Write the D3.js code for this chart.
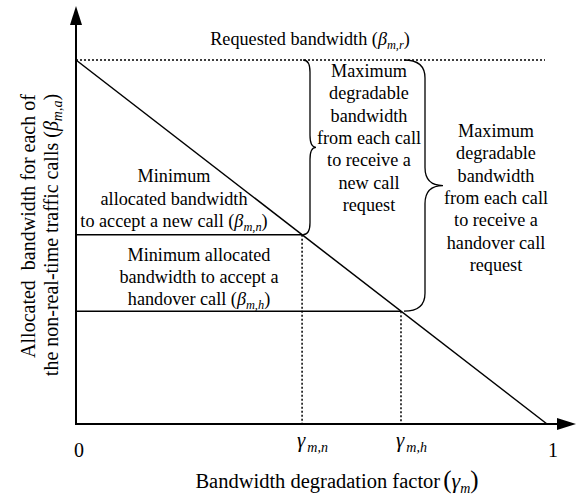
<!DOCTYPE html>
<html>
<head>
<meta charset="utf-8">
<script src="https://cdn.jsdelivr.net/npm/d3@7"></script>
</head>
<body style="margin:0;background:#fff">
<div id="chart"></div>
<script>
// bandwidth degradation factor values (x) and allocated bandwidth (y, relative to requested)
var lineGamma = [0, 1];
var lineBeta = [1, 0];
var markGamma = [0.48, 0.69];
var markSub = ['m,n', 'm,h'];
var tickValues = [0, 1];
var tickLabels = ['0', '1'];
var betaRequested = 1;

var width = 576,
  height = 495,
  serif = 'Liberation Serif',
  fs = 18.2;

var svg = d3.select('#chart')
  .append('svg')
  .attr('width', width)
  .attr('height', height)
  .attr('font-family', serif);

var x = d3.scaleLinear().domain([0, 1]).range([76, 547]);
var y = d3.scaleLinear().domain([0, 1]).range([424, 60]);

// allocated bandwidth of each mark = value on the line
var lineFn = d3.scaleLinear().domain(lineGamma).range(lineBeta);

// axes
svg.append('line')
  .attr('x1', x(0)).attr('y1', y(0))
  .attr('x2', 559).attr('y2', y(0))
  .attr('stroke', '#000').attr('stroke-width', 2);
svg.append('path')
  .attr('d', 'M557,' + (y(0) - 6) + 'L576,' + y(0) + 'L557,' + (y(0) + 6) + 'Z')
  .attr('fill', '#000');
svg.append('line')
  .attr('x1', x(0)).attr('y1', y(0) + 1)
  .attr('x2', x(0)).attr('y2', 23)
  .attr('stroke', '#000').attr('stroke-width', 2);
svg.append('path')
  .attr('d', 'M' + (x(0) - 6) + ',25L' + x(0) + ',6L' + (x(0) + 6) + ',25Z')
  .attr('fill', '#000');

// requested bandwidth (dotted)
svg.append('line')
  .attr('x1', x(0)).attr('y1', y(betaRequested))
  .attr('x2', 545).attr('y2', y(betaRequested))
  .attr('stroke', '#000').attr('stroke-width', 1.5)
  .attr('stroke-dasharray', '2,2');

// allocated bandwidth line
svg.append('path')
  .datum(lineGamma.map(function(g, i) { return [g, lineBeta[i]]; }))
  .attr('d', d3.line().x(function(d) { return x(d[0]); }).y(function(d) { return y(d[1]); }))
  .attr('fill', 'none')
  .attr('stroke', '#000')
  .attr('stroke-width', 1.5);

// horizontal minimum levels and dashed drops
markGamma.forEach(function(g) {
  svg.append('line')
    .attr('x1', x(0)).attr('y1', y(lineFn(g)))
    .attr('x2', x(g)).attr('y2', y(lineFn(g)))
    .attr('stroke', '#000').attr('stroke-width', 1.5);
  svg.append('line')
    .attr('x1', x(g)).attr('y1', y(lineFn(g)))
    .attr('x2', x(g)).attr('y2', y(0))
    .attr('stroke', '#000').attr('stroke-width', 1.5)
    .attr('stroke-dasharray', '2,2');
});

// tick labels
tickValues.forEach(function(v, i) {
  svg.append('text')
    .attr('x', x(v) + (i === 0 ? 3 : 6))
    .attr('y', 457)
    .attr('text-anchor', 'middle')
    .attr('font-family', serif)
    .attr('font-size', 20)
    .text(tickLabels[i]);
});

markGamma.forEach(function(g, i) {
  var t = svg.append('text')
    .attr('x', x(g) - 5)
    .attr('y', 447)
    .attr('font-family', serif)
    .attr('font-size', 21);
  t.append('tspan').attr('font-style', 'italic').text('γ');
  t.append('tspan').attr('font-style', 'italic').attr('font-size', 14)
    .attr('dy', 5).attr('dx', 2).text(markSub[i]);
});

// write a line made of segments; segment with sub gets subscript
var writeLine = function(cx, cy, parts, size) {
  var t = svg.append('text')
    .attr('x', cx).attr('y', cy)
    .attr('text-anchor', 'middle')
    .attr('font-family', serif)
    .attr('font-size', size);
  parts.forEach(function(p) {
    if (typeof p === 'string') {
      t.append('tspan').text(p);
    } else {
      t.append('tspan').attr('font-style', 'italic').text(p.g);
      t.append('tspan').attr('font-style', 'italic').attr('font-size', size * 0.68)
        .attr('dy', 4).text(p.sub);
      t.append('tspan').attr('dy', -4).text(p.after);
    }
  });
  return t;
};

var writeBlock = function(cx, y0, lines, step, size) {
  lines.forEach(function(l, i) {
    writeLine(cx, y0 + i * step, typeof l === 'string' ? [l] : l, size);
  });
};

writeLine(310, 45, ['Requested bandwidth (', {g: 'β', sub: 'm,r', after: ')'}], fs);

writeBlock(174, 182, [
  'Minimum',
  'allocated bandwidth',
  ['to accept a new call (', {g: 'β', sub: 'm,n', after: ')'}]
], 22.5, fs);

writeBlock(199, 261, [
  'Minimum allocated',
  'bandwidth to accept a',
  ['handover call (', {g: 'β', sub: 'm,h', after: ')'}]
], 22, fs);

writeBlock(369, 77, ['Maximum', 'degradable', 'bandwidth', 'from each call',
  'to receive a', 'new call', 'request'], 22.3, fs);

writeBlock(496, 137, ['Maximum', 'degradable', 'bandwidth', 'from each call',
  'to receive a', 'handover call', 'request'], 22.3, fs);

// braces
var brace = function(xEnd, xSpine, xTip, y0, y1, ry) {
  var ym = (y0 + y1) / 2;
  var d = 'M' + xEnd + ',' + y0 +
    'Q' + xSpine + ',' + y0 + ' ' + xSpine + ',' + (y0 + ry) +
    'L' + xSpine + ',' + (ym - ry) +
    'Q' + xSpine + ',' + ym + ' ' + xTip + ',' + ym +
    'Q' + xSpine + ',' + ym + ' ' + xSpine + ',' + (ym + ry) +
    'L' + xSpine + ',' + (y1 - ry) +
    'Q' + xSpine + ',' + y1 + ' ' + xEnd + ',' + y1;
  svg.append('path').attr('d', d)
    .attr('fill', 'none').attr('stroke', '#000').attr('stroke-width', 1.3);
};
brace(x(markGamma[0]) + 1, 310, 316, y(betaRequested), y(lineFn(markGamma[0])), 12);
brace(x(markGamma[1]) + 3, 425, 443, y(betaRequested), y(lineFn(markGamma[1])), 18);

// axis titles
var xt = svg.append('text')
  .attr('x', 337).attr('y', 488)
  .attr('text-anchor', 'middle')
  .attr('font-family', serif)
  .attr('font-size', 20.5);
xt.append('tspan').text('Bandwidth degradation factor');
xt.append('tspan').attr('dx', 3).attr('font-size', 25).text('(');
xt.append('tspan').attr('font-style', 'italic').attr('font-size', 22).text('γ');
xt.append('tspan').attr('font-style', 'italic').attr('font-size', 14).attr('dy', 5).text('m');
xt.append('tspan').attr('font-size', 25).attr('dy', -5).text(')');

var yt = svg.append('g').attr('transform', 'rotate(-90)');
yt.append('text')
  .attr('x', -226).attr('y', 35)
  .attr('text-anchor', 'middle')
  .attr('font-family', serif)
  .attr('font-size', 20)
  .attr('xml:space', 'preserve')
  .style('white-space', 'pre')
  .text('Allocated  bandwidth for each of');
var yt2 = yt.append('text')
  .attr('x', -235).attr('y', 58)
  .attr('text-anchor', 'middle')
  .attr('font-family', serif)
  .attr('font-size', 20);
yt2.append('tspan').text('the non-real-time traffic calls (');
yt2.append('tspan').attr('font-style', 'italic').text('β');
yt2.append('tspan').attr('font-style', 'italic').attr('font-size', 14).attr('dy', 4).text('m,a');
yt2.append('tspan').attr('dy', -4).text(')');
</script>
</body>
</html>
